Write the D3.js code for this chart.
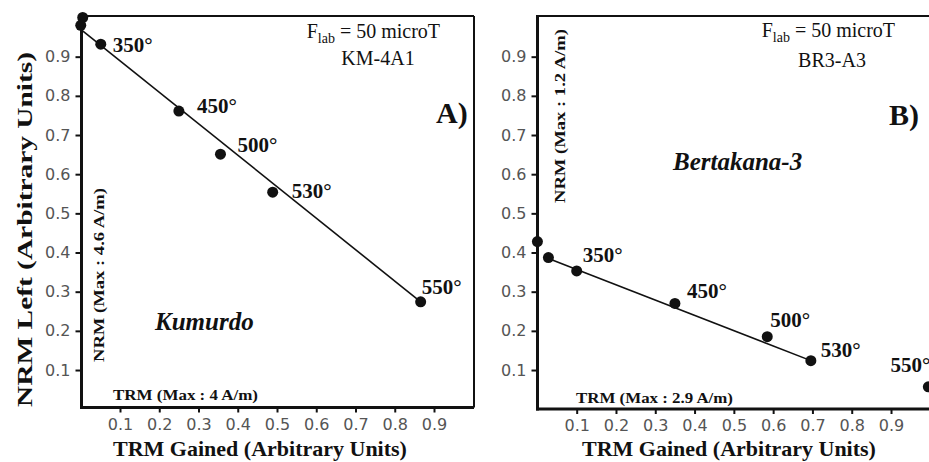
<!DOCTYPE html>
<html>
<head>
<meta charset="utf-8">
<script src="https://cdn.jsdelivr.net/npm/d3@7"></script>
<style>
  body { margin: 0; background: #fff; }
  svg { display: block; }
  .serif { font-family: "Liberation Serif", "Times New Roman", serif; fill: #111; }
</style>
</head>
<body>
<svg id="chart" width="929" height="462"></svg>
<script>
// tick values shared by both plots
var tickValues = [0.1, 0.2, 0.3, 0.4, 0.5, 0.6, 0.7, 0.8, 0.9];

// A) Kumurdo, KM-4A1
var kmTrm = [0.005, 0.0, 0.051, 0.25, 0.356, 0.489, 0.866];
var kmNrm = [1.0, 0.98, 0.932, 0.761, 0.651, 0.554, 0.274];
var kmSteps = ["", "", "350°", "450°", "500°", "530°", "550°"];
var kmFitTrm = [0.0, 0.866];
var kmFitNrm = [0.97, 0.274];

// B) Bertakana-3, BR3-A3
var brTrm = [0.0, 0.028, 0.10, 0.35, 0.585, 0.696, 0.995];
var brNrm = [0.428, 0.387, 0.353, 0.270, 0.185, 0.124, 0.057];
var brSteps = ["", "", "350°", "450°", "500°", "530°", "550°"];
var brFitTrm = [0.028, 0.696];
var brFitNrm = [0.385, 0.124];

var svg = d3.select("#chart");

function styleAxis(a){
    a.select(".domain").remove();
    a.selectAll("line").attr("stroke", "#111").attr("stroke-width", 2);
    a.selectAll("text")
        .style("font-family", "'DejaVu Sans', sans-serif")
        .style("font-size", "16px")
        .style("fill", "#555");
}

function drawPanel(p){
    var x = d3.scaleLinear().domain([0, 1]).range(p.xRange);
    var y = d3.scaleLinear().domain([0, 1]).range([409.2, 17.5]);
    var g = svg.append("g");

    // axes
    var xAxis = d3.axisBottom(x).tickValues(tickValues).tickSize(5).tickPadding(6)
        .tickFormat(d3.format(".1f"));
    g.append("g")
        .attr("transform", "translate(0," + p.frame.bottom + ")")
        .call(xAxis)
        .call(styleAxis);

    var yAxis = d3.axisLeft(y).tickValues(tickValues).tickSize(6).tickPadding(5)
        .tickFormat(d3.format(".1f"));
    g.append("g")
        .attr("transform", "translate(" + p.frame.left + ",0)")
        .call(yAxis)
        .call(styleAxis);

    // frame
    var f = p.frame;
    g.append("line").attr("x1", f.left).attr("x2", f.right).attr("y1", f.top).attr("y2", f.top)
        .attr("stroke", "#111").attr("stroke-width", 2);
    g.append("line").attr("x1", f.right).attr("x2", f.right).attr("y1", f.top).attr("y2", f.bottom)
        .attr("stroke", "#111").attr("stroke-width", 2);
    g.append("line").attr("x1", f.left).attr("x2", f.left).attr("y1", f.top - 1).attr("y2", f.bottom + 1.5)
        .attr("stroke", "#111").attr("stroke-width", 3);
    g.append("line").attr("x1", f.left - 1.5).attr("x2", f.right).attr("y1", f.bottom).attr("y2", f.bottom)
        .attr("stroke", "#111").attr("stroke-width", 3);

    // fitted line
    var line = d3.line().x(function(d){ return x(d[0]); }).y(function(d){ return y(d[1]); });
    g.append("path")
        .datum(d3.zip(p.fitTrm, p.fitNrm))
        .attr("d", line)
        .attr("fill", "none").attr("stroke", "#111").attr("stroke-width", 1.6);

    var pts = p.trm.map(function(t, i){ return {trm: t, nrm: p.nrm[i], step: p.steps[i], off: p.offsets[i]}; });

    g.selectAll("circle.pt").data(pts).enter().append("circle")
        .attr("class", "pt")
        .attr("cx", function(d){ return x(d.trm); })
        .attr("cy", function(d){ return y(d.nrm); })
        .attr("r", 5.5)
        .attr("fill", "#111");

    g.selectAll("text.step").data(pts.filter(function(d){ return d.step !== ""; })).enter().append("text")
        .attr("class", "step serif")
        .attr("x", function(d){ return x(d.trm) + d.off[0]; })
        .attr("y", function(d){ return y(d.nrm) + d.off[1]; })
        .attr("text-anchor", function(d){ return d.off[2] || "start"; })
        .style("font-size", "21px").style("font-weight", "bold")
        .text(function(d){ return d.step; });

    // field / sample label
    var t = g.append("text").attr("class", "serif")
        .attr("x", p.flab[0]).attr("y", p.flab[1])
        .style("font-size", "20px");
    t.append("tspan").text("F");
    t.append("tspan").attr("dy", 5).style("font-size", "14px").text("lab");
    t.append("tspan").attr("dy", -5).text(" = 50 microT");

    g.append("text").attr("class", "serif")
        .attr("x", p.sample[0]).attr("y", p.sample[1])
        .attr("text-anchor", "middle")
        .style("font-size", "20px")
        .text(p.sampleName);

    g.append("text").attr("class", "serif")
        .attr("x", p.letter[0]).attr("y", p.letter[1])
        .style("font-size", "30px").style("font-weight", "bold")
        .text(p.letterText);

    g.append("text").attr("class", "serif")
        .attr("x", p.site[0]).attr("y", p.site[1])
        .style("font-size", "25px").style("font-weight", "bold").style("font-style", "italic")
        .text(p.siteName);

    g.append("text").attr("class", "serif")
        .attr("x", p.trmMax[0]).attr("y", p.trmMax[1])
        .attr("textLength", p.trmMax[2]).attr("lengthAdjust", "spacingAndGlyphs")
        .style("font-size", "14px").style("font-weight", "bold")
        .text(p.trmMaxText);

    g.append("text").attr("class", "serif")
        .attr("transform", "translate(" + p.nrmMax[0] + "," + p.nrmMax[1] + ") rotate(-90)")
        .attr("textLength", 174).attr("lengthAdjust", "spacingAndGlyphs")
        .style("font-size", "14px").style("font-weight", "bold")
        .text(p.nrmMaxText);

    g.append("text").attr("class", "serif")
        .attr("x", p.xTitle[0]).attr("y", p.xTitle[1])
        .attr("text-anchor", "middle")
        .style("font-size", "22px").style("font-weight", "bold")
        .text("TRM Gained (Arbitrary Units)");
}

drawPanel({
    xRange: [80.75, 473.25],
    frame: {left: 81.5, right: 474, top: 16, bottom: 407.5},
    trm: kmTrm, nrm: kmNrm, steps: kmSteps, fitTrm: kmFitTrm, fitNrm: kmFitNrm,
    offsets: [null, null, [12, 8], [18, 2], [17, -2], [19, 6], [1, -8]],
    flab: [306.7, 37.7], sample: [378, 65], sampleName: "KM-4A1",
    letter: [436, 123], letterText: "A)",
    site: [155, 330], siteName: "Kumurdo",
    trmMax: [113, 400, 145], trmMaxText: "TRM (Max : 4 A/m)",
    nrmMax: [104, 362], nrmMaxText: "NRM (Max : 4.6 A/m)",
    xTitle: [260, 456]
});

drawPanel({
    xRange: [537.4, 930.3],
    frame: {left: 537.5, right: 935, top: 16, bottom: 409},
    trm: brTrm, nrm: brNrm, steps: brSteps, fitTrm: brFitTrm, fitNrm: brFitNrm,
    offsets: [null, null, [6, -9], [12, -5], [3, -10], [10, -4], [2, -15, "end"]],
    flab: [761.7, 37], sample: [832, 67], sampleName: "BR3-A3",
    letter: [889, 125], letterText: "B)",
    site: [673, 170], siteName: "Bertakana-3",
    trmMax: [576, 403, 157], trmMaxText: "TRM (Max : 2.9 A/m)",
    nrmMax: [565, 203], nrmMaxText: "NRM (Max : 1.2 A/m)",
    xTitle: [729, 456]
});

// y title (left plot only)
svg.append("text").attr("class", "serif")
    .attr("transform", "translate(32,229.5) rotate(-90)")
    .attr("text-anchor", "middle")
    .attr("textLength", 355).attr("lengthAdjust", "spacingAndGlyphs")
    .style("font-size", "22px").style("font-weight", "bold")
    .text("NRM Left (Arbitrary Units)");
</script>
</body>
</html>
